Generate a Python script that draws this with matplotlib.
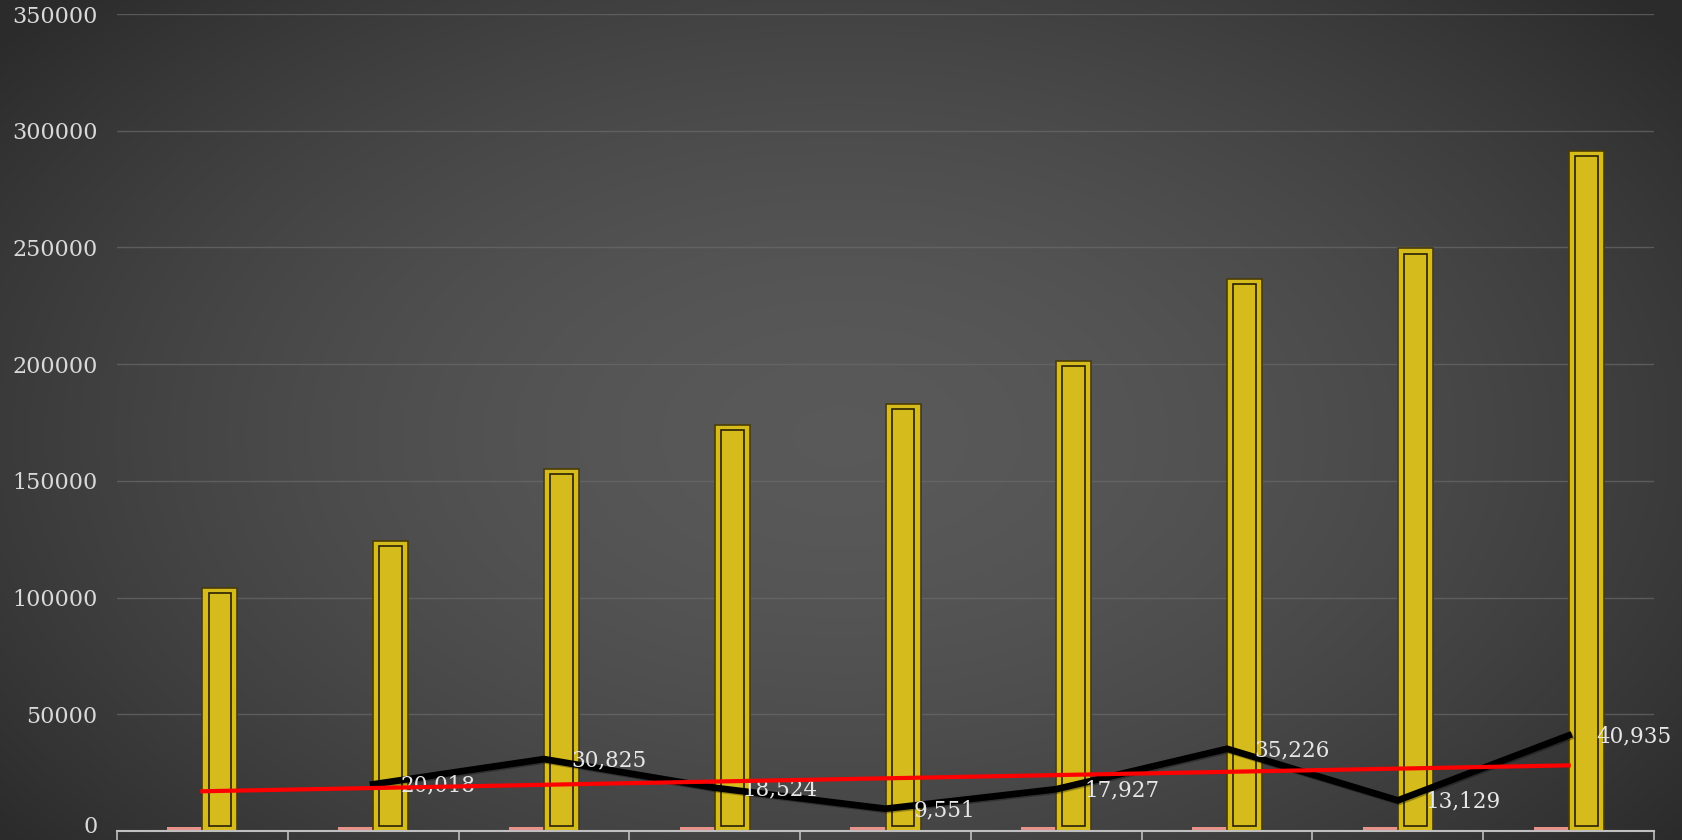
import numpy as np
import matplotlib
matplotlib.use("Agg")
import matplotlib.pyplot as plt
import matplotlib.patheffects as pe
from matplotlib.transforms import ScaledTranslation

# data
categories = np.arange(1, 10)
small_vals = [1700, 1700, 1700, 1700, 1700, 1700, 1700, 1700, 1700]
bar_vals = [104200, 124400, 155000, 173900, 183100, 201400, 236400, 249600, 291300]
line_x = [2, 3, 4, 5, 6, 7, 8, 9]
line_vals = [20018, 30825, 18524, 9551, 17927, 35226, 13129, 40935]
trend_x = [1, 9]
trend_vals = [17030, 28120]
yticks = [0, 50000, 100000, 150000, 200000, 250000, 300000, 350000]

fig = plt.figure(figsize=(16.83, 8.4), dpi=100)

# radial grey background
bg = fig.add_axes([0, 0, 1, 1], zorder=-1)
yy, xx = np.mgrid[0:1:420j, 0:1:840j]
r = np.sqrt(((xx - 0.5) / 0.65) ** 2 + ((yy - 0.52) / 0.8) ** 2)
shade = np.clip(0.35 - 0.19 * r ** 1.7, 0.17, 0.35)
bg.imshow(np.dstack([shade, shade, shade]), extent=[0, 1, 0, 1], aspect='auto')
bg.set_axis_off()

ax = fig.add_axes([0.0695, 0.0107, 0.9133, 0.9726])
ax.set_facecolor('none')

w = 0.205
# small salmon bars
ax.bar(categories - w / 2, small_vals, width=w, color='#e8928a', zorder=2)
# yellow bars with outer edge and inner frame
ax.bar(categories + w / 2, bar_vals, width=w, color='#d5bb1c', edgecolor='#4a3c08',
       linewidth=1.2, zorder=2,
       path_effects=[pe.SimplePatchShadow(offset=(0, 0), shadow_rgbFace='#202020', alpha=0.5),
                     pe.Normal()])
dx = 0.036
dy = 2200
ax.bar(categories + w / 2, np.array(bar_vals) - 2 * dy, bottom=dy, width=w - 2 * dx,
       fill=False, edgecolor='#2a2205', linewidth=1.2, zorder=3)

# black series and trend line
ax.plot(line_x, line_vals, color='black', lw=4.8, solid_joinstyle='miter', zorder=4,
        path_effects=[pe.SimpleLineShadow(offset=(1, -1), alpha=0.3), pe.Normal()])
for xv, yv in zip(line_x, line_vals):
    ax.annotate(f'{yv:,}', (xv, yv), xytext=(20, -1), textcoords='offset points',
                ha='left', va='center', fontsize=15.5, family='DejaVu Serif',
                color='#e6e6e6', zorder=5)
ax.plot(trend_x, trend_vals, color='#ff0000', lw=3, zorder=6)

ax.set_xlim(0.5, 9.5)
ax.set_ylim(0, 350000)
ax.set_yticks(yticks)
ax.set_yticklabels([str(v) for v in yticks], family='DejaVu Serif', fontsize=16,
                   color='#d9d9d9')
ax.tick_params(axis='y', length=0, pad=14)
# keep the zero label inside the canvas
zero_lab = ax.get_yticklabels()[0]
zero_lab.set_transform(zero_lab.get_transform() + ScaledTranslation(0, 5 / 72, fig.dpi_scale_trans))
ax.set_xticks([])
ax.set_xticks(np.arange(0.5, 10, 1), minor=True)
ax.tick_params(axis='x', which='minor', length=12, color='#bfbfbf', width=1.2)
ax.grid(axis='y', color='#6a6a6a', lw=1, alpha=0.7)
ax.set_axisbelow(True)
for s in ['top', 'right', 'left']:
    ax.spines[s].set_visible(False)
ax.spines['bottom'].set_color('#c0c0c0')
ax.spines['bottom'].set_linewidth(1.5)

fig.savefig('out.png', dpi=100)
